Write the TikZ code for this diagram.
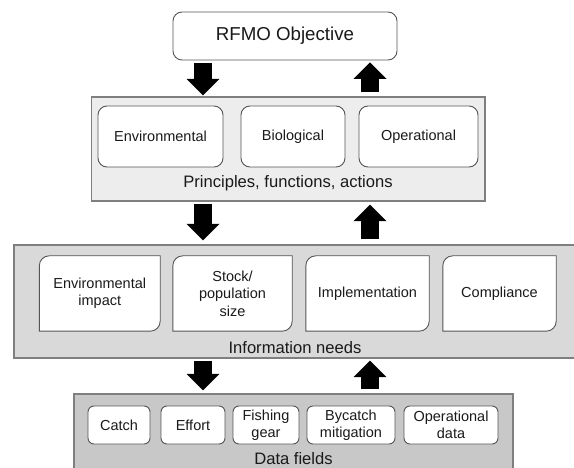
\documentclass[tikz,border=0pt]{standalone}
\usepackage{fontspec}
\setmainfont{Liberation Sans}
\usetikzlibrary{arrows.meta}
\definecolor{prinfill}{HTML}{EDEDED}
\definecolor{infofill}{HTML}{D9D9D9}
\definecolor{datafill}{HTML}{C8C8C8}
\definecolor{outerline}{HTML}{7F7F7F}
\definecolor{innerline}{HTML}{555555}
\definecolor{txt}{HTML}{1A1A1A}
\newcommand\infoshape[1]{%
  \draw[infoline] (#1.north east) -- ([yshift=10pt]#1.south east)
    arc[start angle=0,end angle=-90,radius=10pt] -- (#1.south west)
    -- ([yshift=-10pt]#1.north west)
    arc[start angle=180,end angle=90,radius=10pt] -- cycle;}
\begin{document}
\begin{tikzpicture}[x=1pt,y=-1pt,
  every node/.style={inner sep=0pt, text=txt},
  titlebox/.style={draw=innerline, line width=0.9pt, fill=white, rounded corners=9pt,
    font=\fontsize{18.7}{22}\selectfont},
  outerbox/.style={draw=outerline, line width=1.4pt},
  lbl/.style={font=\fontsize{16.6}{20}\selectfont},
  innertext/.style={font=\fontsize{14.5}{17.4}\selectfont, align=center},
  roundbox/.style={innertext, draw=innerline, line width=0.9pt, fill=white, rounded corners=9pt},
  databox/.style={innertext, draw=innerline, line width=0.9pt, fill=white, rounded corners=6pt},
  infobox/.style={innertext},
  infoline/.style={draw=innerline, line width=0.9pt, fill=white},
  bigarrow/.style={line width=18pt, black,
    -{Triangle[width=33pt,length=16.5pt,line width=0pt]}}
]
\clip (0,0) rectangle (574,468);
\fill[white] (0,0) rectangle (574,468);

% top
\node[titlebox, minimum width=224pt, minimum height=48pt] (rfmo) at (285,36) {RFMO Objective};

% principles
\node[outerbox, fill=prinfill, minimum width=393.5pt, minimum height=104pt] (prin) at (288.25,149) {};
\node[roundbox, minimum width=125pt, minimum height=61pt] (env) at (160.5,136.5) {Environmental};
\node[roundbox, minimum width=104pt, minimum height=61pt] (bio) at (293,136.5) {Biological};
\node[roundbox, minimum width=119pt, minimum height=61pt] (oper) at (418.5,136.5) {Operational};
\node[lbl] (prinlbl) at (288,183) {Principles, functions, actions};

% information needs
\node[outerbox, fill=infofill, minimum width=562pt, minimum height=113pt] (info) at (295,301.5) {};
\node[infobox, minimum width=120.5pt, minimum height=75pt] (envimp) at (99.75,293.5) {};
\node[infobox, minimum width=119pt, minimum height=75pt] (stock) at (232.5,293.5) {};
\node[infobox, minimum width=123pt, minimum height=75pt] (impl) at (367.5,293.5) {};
\node[infobox, minimum width=113pt, minimum height=75pt] (comp) at (499.5,293.5) {};
\infoshape{envimp}
\infoshape{stock}
\infoshape{impl}
\infoshape{comp}
\node[infobox] (envimptxt) at (envimp.center) {Environmental\\impact};
\node[infobox] (stocktxt) at (stock.center) {Stock/\\population\\size};
\node[infobox] (impltxt) at (impl.center) {Implementation};
\node[infobox] (comptxt) at (comp.center) {Compliance};
\node[lbl] (infolbl) at (295,348) {Information needs};

% data fields
\node[outerbox, fill=datafill, minimum width=439pt, minimum height=82pt] (data) at (293.5,435) {};
\node[databox, minimum width=62pt, minimum height=38pt] (catch) at (119,425) {Catch};
\node[databox, minimum width=64pt, minimum height=38pt] (effort) at (193,425) {Effort};
\node[databox, minimum width=66pt, minimum height=38pt] (gear) at (266,425) {Fishing\\gear};
\node[databox, minimum width=88pt, minimum height=38pt] (bycatch) at (351,425) {Bycatch\\mitigation};
\node[databox, minimum width=94pt, minimum height=38pt] (opdata) at (451,425) {Operational\\data};
\node[lbl] (datalbl) at (293.5,458.5) {Data fields};

% arrows
\coordinate (xl) at (203,0);
\coordinate (xr) at (370,0);
\draw[bigarrow, shorten <=3pt, shorten >=1pt] (rfmo.south -| xl) -- (prin.north -| xl);
\draw[bigarrow, shorten <=4pt, shorten >=2pt] (prin.north -| xr) -- (rfmo.south -| xr);
\draw[bigarrow, shorten <=2pt, shorten >=4pt] (prin.south -| xl) -- (info.north -| xl);
\draw[bigarrow, shorten <=5pt, shorten >=3pt] (info.north -| xr) -- (prin.south -| xr);
\draw[bigarrow, shorten <=2pt, shorten >=3pt] (info.south -| xl) -- (data.north -| xl);
\draw[bigarrow, shorten <=4pt, shorten >=2pt] (data.north -| xr) -- (info.south -| xr);
\end{tikzpicture}
\end{document}
